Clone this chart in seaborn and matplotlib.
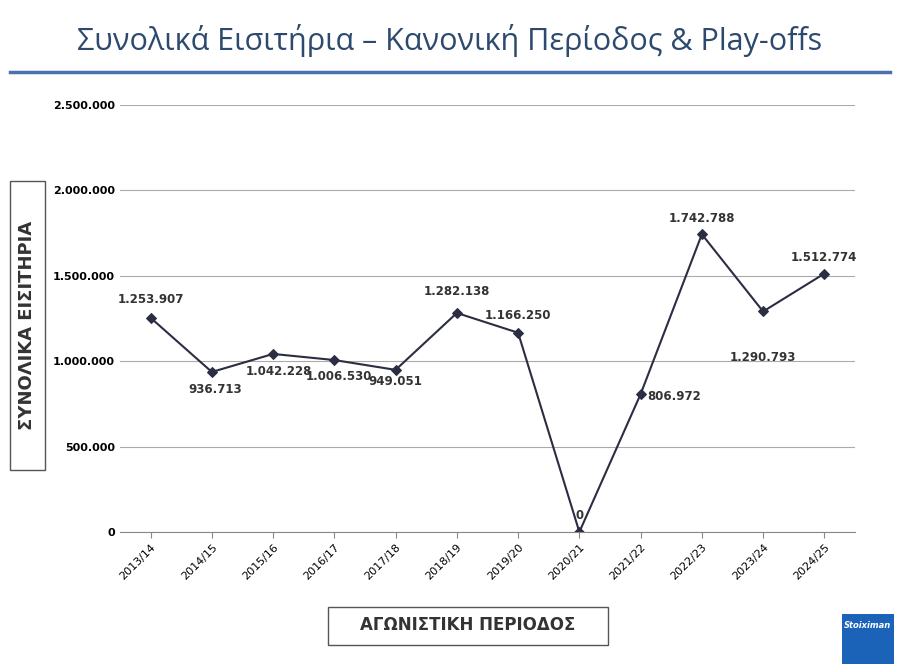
import matplotlib
matplotlib.use("Agg")
import matplotlib.pyplot as plt
import seaborn as sns
import pandas as pd
from matplotlib.patches import Rectangle

seasons = ["2013/14","2014/15","2015/16","2016/17","2017/18","2018/19","2019/20",
           "2020/21","2021/22","2022/23","2023/24","2024/25"]
tickets = [1253907, 936713, 1042228, 1006530, 949051, 1282138, 1166250,
           0, 806972, 1742788, 1290793, 1512774]
labels = ["1.253.907","936.713","1.042.228","1.006.530","949.051","1.282.138","1.166.250",
          "0","806.972","1.742.788","1.290.793","1.512.774"]
offsets = [(0,18),(3,-18),(6,-18),(5,-16),(0,-12),(0,21),(0,17),
           (0,16),(34,-2),(0,16),(0,-46),(0,16)]
yticks = [0,500000,1000000,1500000,2000000,2500000]
yticklabels = ["0","500.000","1.000.000","1.500.000","2.000.000","2.500.000"]

df = pd.DataFrame({"season": seasons, "tickets": tickets, "x": range(len(seasons))})

fig = plt.figure(figsize=(9, 6.71), dpi=100)
ax = fig.add_axes([0.1333, 0.2072, 0.8167, 0.6364])
sns.lineplot(data=df, x="x", y="tickets", ax=ax, color="#2b2d42", marker="D",
             markersize=5, linewidth=1.5, markeredgecolor="#2b2d42")
for i, (v, l, o) in enumerate(zip(tickets, labels, offsets)):
    ax.annotate(l, (i, v), xytext=(o[0]*0.72, o[1]*0.72), textcoords="offset points",
                ha="center", va="center", fontsize=8.5, fontweight="bold", color="#333333")
ax.set_xlim(-0.5, 11.5)
ax.set_ylim(0, 2500000)
ax.set_yticks(yticks)
ax.set_yticklabels(yticklabels, fontsize=8, fontweight="bold")
ax.set_xticks(range(len(seasons)))
ax.set_xticklabels(seasons, rotation=45, ha="right", rotation_mode="anchor", fontsize=8)
ax.grid(axis="y", color="#aaaaaa", linewidth=0.8)
ax.set_axisbelow(True)
for s in ["top","right","left"]:
    ax.spines[s].set_visible(False)
ax.spines["bottom"].set_color("#888888")
ax.tick_params(axis="y", length=0)
ax.tick_params(axis="x", length=4, color="#888888")
ax.set_xlabel(""); ax.set_ylabel("")

fig.text(0.5, 0.94, "Συνολικά Εισιτήρια – Κανονική Περίοδος & Play-offs", ha="center",
         va="center", fontsize=22, color="#2d4a6e", family="Open Sans")
fig.add_artist(plt.Line2D([0.011, 0.989], [0.893, 0.893], color="#4a72b0", linewidth=2.5))

fig.add_artist(Rectangle((0.011, 0.30), 0.039, 0.43, transform=fig.transFigure,
                         fill=False, edgecolor="#555555", linewidth=1))
fig.text(0.030, 0.515, "ΣΥΝΟΛΙΚΑ ΕΙΣΙΤΗΡΙΑ", rotation=90, ha="center", va="center",
         fontsize=13, fontweight="bold", color="#333333")
fig.add_artist(Rectangle((0.364, 0.039), 0.311, 0.057, transform=fig.transFigure,
                         fill=False, edgecolor="#555555", linewidth=1))
fig.text(0.52, 0.068, "ΑΓΩΝΙΣΤΙΚΗ ΠΕΡΙΟΔΟΣ", ha="center", va="center",
         fontsize=12, fontweight="bold", color="#333333")

fig.add_artist(Rectangle((0.935, 0.01), 0.058, 0.075, transform=fig.transFigure,
                         facecolor="#1b63b8", edgecolor="none"))
fig.text(0.964, 0.068, "Stoiximan", ha="center", va="center", fontsize=6,
         fontweight="bold", fontstyle="italic", color="white")

fig.savefig("out.png", dpi=100)
